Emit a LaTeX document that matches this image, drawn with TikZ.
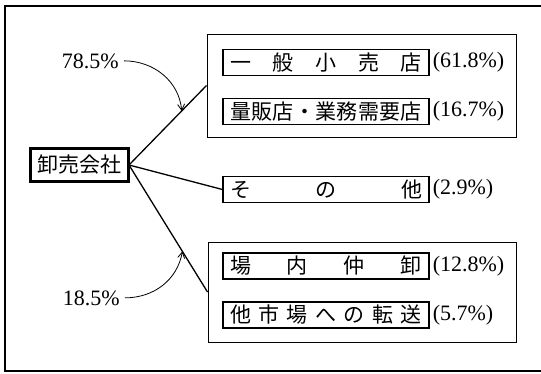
\documentclass[tikz,border=0pt]{standalone}
\usepackage{fontspec}
\setmainfont{Liberation Serif}
\newfontfamily\jp{Noto Sans CJK JP}
\usetikzlibrary{arrows.meta,calc}
\newcommand{\spreadtxt}[1]{\makebox[192pt][s]{#1}}
\begin{document}
\begin{tikzpicture}[x=1pt,y=-1pt,
  bigbox/.style={draw, line width=1pt, inner sep=0pt},
  ibox/.style={draw, line width=1.1pt, inner xsep=6pt, inner ysep=0pt,
    minimum width=206pt, minimum height=26pt, font=\jp\fontsize{21}{21}\selectfont},
  pct/.style={anchor=west, inner sep=0pt, xshift=3pt, font=\fontsize{22}{22}\selectfont},
  lbl/.style={inner sep=0pt, font=\fontsize{22}{22}\selectfont},
  conn/.style={line width=1.3pt},
  curv/.style={line width=0.8pt, -{Straight Barb[length=6pt,width=7pt]}}
]
\useasboundingbox (0,0) rectangle (541,373);
\fill[white] (0,0) rectangle (541,373);
% outer frame
\draw[line width=2.2pt] (545,6) -- (5,6) -- (5,371) -- (545,371);

% big boxes
\node[bigbox, minimum width=309pt, minimum height=103pt] (up) at (361.5,85.5) {};
\node[bigbox, minimum width=308pt, minimum height=100pt] (lo) at (362,292) {};

% inner boxes
\node[ibox] (b1) at (326,62.5) {\spreadtxt{一\hfill 般\hfill 小\hfill 売\hfill 店}};
\node[ibox] (b2) at (326,111.5) {\spreadtxt{量\hfil 販\hfil 店\hfil ・\hfil 業\hfil 務\hfil 需\hfil 要\hfil 店}};
\node[ibox] (b3) at (326,189.5) {\spreadtxt{そ\hfill の\hfill 他}};
\node[ibox] (b4) at (326,266) {\spreadtxt{場\hfill 内\hfill 仲\hfill 卸}};
\node[ibox] (b5) at (326,315) {\spreadtxt{他\hfill 市\hfill 場\hfill へ\hfill の\hfill 転\hfill 送}};

\node[pct] (p1) at (b1.east) {(61.8\%)};
\node[pct] (p2) at (b2.east) {(16.7\%)};
\node[pct] (p3) at (b3.east) {(2.9\%)};
\node[pct] (p4) at (b4.east) {(12.8\%)};
\node[pct] (p5) at (b5.east) {(5.7\%)};

% company box
\node[draw, line width=2.5pt, minimum width=98pt, minimum height=33pt, inner sep=0pt,
  font=\jp\fontsize{21}{21}\selectfont] (k) at (79.5,165) {卸売会社};

% connectors
\coordinate (ko) at (129,165);
\draw[conn] (ko) -- (up.west);
\draw[conn] (ko) -- (b3.west);
\draw[conn] (ko) -- (lo.west);

\coordinate (t1) at ($(ko)!0.68!(up.west)$);
\coordinate (t2) at ($(ko)!0.68!(lo.west)$);

% labels with curved arrows
\node[lbl, anchor=base east] (l1) at (119,68) {78.5\%};
\node[lbl, anchor=base east] (l2) at (120,305) {18.5\%};

\draw[curv] ([xshift=5pt]l1.east) to[out=0, in=95] (t1);
\draw[curv] ([xshift=5pt]l2.east) to[out=0, in=-100] (t2);
\end{tikzpicture}
\end{document}
